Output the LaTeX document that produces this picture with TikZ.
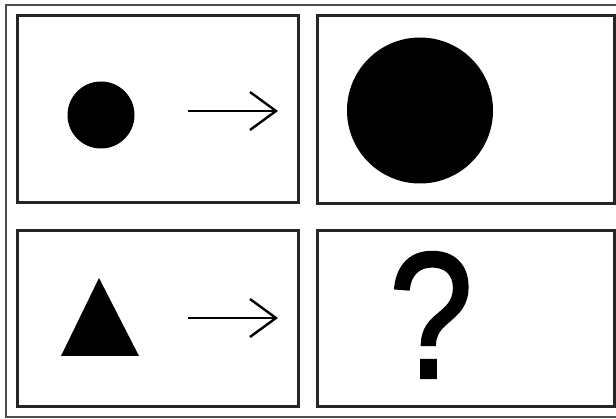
\documentclass[tikz,border=0pt]{standalone}
\usepackage{fontspec}
\usepackage{graphicx}
\newfontfamily\qfont[FakeBold=1.5]{Liberation Sans}
\usetikzlibrary{arrows.meta,positioning}

\begin{document}
\begin{tikzpicture}[
				x=1pt, y=-1pt,
				panel/.style={rectangle, draw=black!85, line width=3pt, inner sep=0pt},
				frame/.style={draw=black!70, line width=2.2pt},
				dot/.style={circle, fill=black, inner sep=0pt},
				arrow/.style={line width=2.4pt, -{Straight Barb[length=26pt, width=38pt, line width=2.4pt]}}
				]
				\clip (0,0) rectangle (616,419);
				\draw [frame] (6,5) rectangle (630,417);
				
				\node (A) [panel, minimum width=281pt, minimum height=187pt] at (157.5,109.5) {};
				\node (B) [panel, right=16pt of A, minimum width=297pt, minimum height=188pt] {};
				\node (C) [panel, below=25pt of A, minimum width=281pt, minimum height=176pt] {};
				\node (D) [panel, right=16pt of C, minimum width=297pt, minimum height=176pt] {};
				
				\node (S) [dot, minimum size=67pt] at (101,115) {};
				\node (L) [dot, minimum size=146pt] at (420,110.5) {};
				\fill (99,278) -- (61,356) -- (139,356) -- cycle;
				\node (Q) [inner sep=0pt] at (431,315) {\scalebox{0.84}[1]{\qfont\fontsize{180}{180}\selectfont ?}};
				
				\coordinate (a1) at (188,111);
				\coordinate (b1) at (278,111);
				\coordinate (a2) at (188,318);
				\coordinate (b2) at (278,318);
				
				\draw [arrow] (a1) -- (b1);
				\draw [arrow] (a2) -- (b2);
			\end{tikzpicture}
\end{document}
